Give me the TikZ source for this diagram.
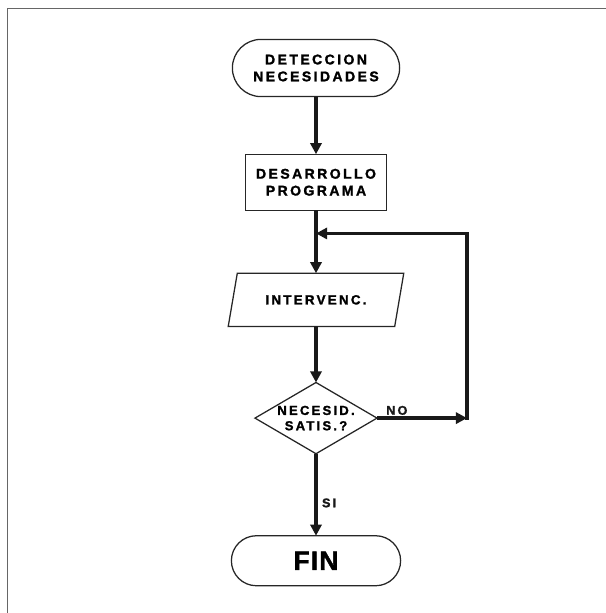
\documentclass[tikz,border=0pt]{standalone}
\usepackage{fontspec}
\setmainfont{Liberation Sans}
\newfontfamily\spacedsans{Liberation Sans}[LetterSpace=17, BoldFeatures={FakeBold=1.5}]
\newfontfamily\finsans{Liberation Sans}[LetterSpace=4, BoldFeatures={FakeBold=1.5}]
\usetikzlibrary{shapes.geometric, shapes.misc, arrows.meta, positioning}

\begin{document}
\begin{tikzpicture}[
  x=0.025cm, y=-0.025cm,
  node distance=1.4cm,
  base/.style={draw=black!85, line width=0.9pt, outer sep=0pt, inner sep=1pt,
              align=center, font=\spacedsans\bfseries\fontsize{10}{12}\selectfont},
  termbox/.style={base, rounded rectangle, minimum width=4.25cm, minimum height=1.43cm},
  progbox/.style={base, rectangle, minimum width=3.53cm, minimum height=1.4cm},
  iobox/.style={base, trapezium, trapezium left angle=64, trapezium right angle=116,
               trapezium stretches=true, minimum width=4.4cm, minimum height=1.33cm,
               font=\spacedsans\bfseries\fontsize{9.5}{11}\selectfont},
  askbox/.style={base, diamond, minimum width=3.05cm, minimum height=1.78cm, inner sep=0pt,
                font=\spacedsans\bfseries\fontsize{9.3}{10.9}\selectfont},
  flowtag/.style={inner sep=1pt, font=\spacedsans\bfseries\fontsize{9}{10}\selectfont},
  arrow/.style={-{Triangle[length=2.8mm, width=2.8mm]}, line width=2.6pt, color=black!90}
]
\useasboundingbox (0,0) rectangle (606,613);
\draw[black!60, line width=1pt] (7.5,613) -- (7.5,8.5) -- (606,8.5);

\node[termbox] (detect) at (316,68) {DETECCION\\NECESIDADES};
\node[progbox, below=1.44cm of detect] (develop) {DESARROLLO\\PROGRAMA};
\node[iobox, below=1.575cm of develop] (interv) {INTERVENC.};
\node[askbox, below=1.4cm of interv] (check)
  {\makebox[0pt]{NECESID.}\\\makebox[0pt]{SATIS.?}};
\node[termbox, below=2.05cm of check, minimum width=4.3cm, minimum height=1.25cm,
      font=\finsans\bfseries\fontsize{19}{22}\selectfont] (finish) {FIN};

\coordinate[right=2.25cm of check.east] (loopcorner);
\coordinate[below=0.58cm of develop.south] (loopjoin);

\draw[arrow] (detect) -- (develop);
\draw[arrow] (develop) -- (interv);
\draw[arrow] (interv) -- (check);
\draw[arrow] (check) -- node[flowtag, right=2pt, pos=0.6] {SI} (finish);
\draw[arrow] (check.east) -- node[flowtag, above=0pt, pos=0.22] {NO} (loopcorner);
\draw[arrow, line cap=rect] (loopcorner) |- (loopjoin);

\end{tikzpicture}
\end{document}
